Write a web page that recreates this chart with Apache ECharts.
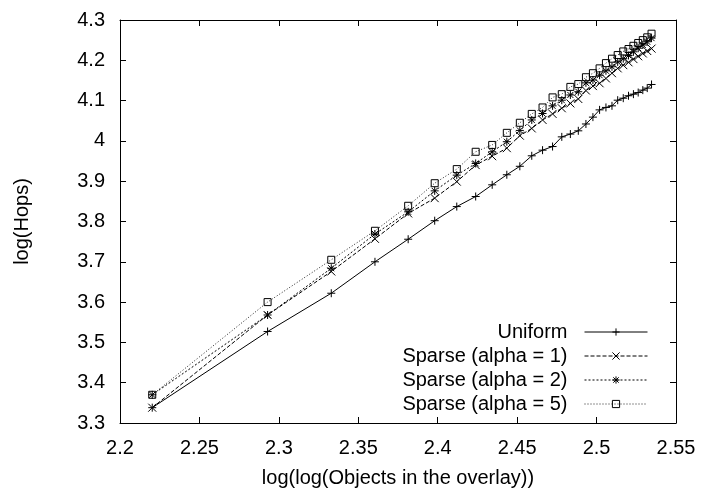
<!DOCTYPE html>
<html>
<head>
<meta charset="utf-8">
<script src="https://cdn.jsdelivr.net/npm/echarts@6/dist/echarts.min.js"></script>
<style>html,body{margin:0;padding:0;background:#fff}#c{width:706px;height:495px}</style>
</head>
<body>
<div id="c"></div>
<script>
var xVals = [2.2203,2.2929,2.3330,2.3605,2.3814,2.3981,2.4120,2.4239,2.4343,2.4435,2.4517,2.4592,2.4660,2.4723,2.4781,2.4835,2.4885,2.4933,2.4977,2.5019,2.5059,2.5097,2.5133,2.5168,2.5201,2.5232,2.5262,2.5291,2.5319,2.5346];
var uniform = [3.338,3.527,3.622,3.700,3.756,3.802,3.837,3.862,3.891,3.916,3.937,3.963,3.977,3.986,4.010,4.017,4.025,4.042,4.059,4.077,4.083,4.087,4.101,4.106,4.112,4.116,4.120,4.126,4.131,4.140];
var alpha1 = [3.338,3.568,3.676,3.757,3.820,3.858,3.899,3.940,3.962,3.982,4.013,4.031,4.052,4.067,4.081,4.093,4.104,4.125,4.136,4.143,4.155,4.168,4.180,4.188,4.195,4.203,4.210,4.217,4.223,4.229];
var alpha2 = [3.370,3.568,3.684,3.769,3.824,3.876,3.915,3.944,3.973,3.998,4.026,4.052,4.068,4.087,4.101,4.114,4.122,4.144,4.151,4.163,4.174,4.184,4.196,4.204,4.212,4.221,4.230,4.238,4.246,4.255];
var alpha5 = [3.370,3.600,3.705,3.777,3.839,3.895,3.930,3.973,3.990,4.020,4.045,4.067,4.083,4.108,4.116,4.134,4.141,4.158,4.168,4.180,4.193,4.204,4.213,4.222,4.228,4.236,4.243,4.250,4.257,4.266];
var seriesNames = ['Uniform','Sparse (alpha = 1)','Sparse (alpha = 2)','Sparse (alpha = 5)'];
var xTitle = 'log(log(Objects in the overlay))';
var yTitle = 'log(Hops)';

var FONT = 'Liberation Sans';
function pairs(ys){ return xVals.map(function(x,i){ return [x, ys[i]]; }); }

var symbols = [
  'path://M0,4H8M4,0V8',
  'path://M0,0L8,8M8,0L0,8',
  'path://M0,4H8M4,0V8M1,1L7,7M7,1L1,7',
  'path://M0,0H8V8H0Z'
];
var dashes = ['solid', [4,2], [2,2], [1,2]];
var sizes = [8, 8, 8, 7];
var datasets = [uniform, alpha1, alpha2, alpha5];

var axisCommon = {
  axisLine: {show: true, lineStyle: {color: '#000', width: 1}},
  axisTick: {show: true, inside: true, length: 6, lineStyle: {color: '#000', width: 1}},
  splitLine: {show: false}
};

var chart = echarts.init(document.getElementById('c'), null, {renderer: 'canvas'});
chart.setOption({
  animation: false,
  backgroundColor: '#fff',
  grid: {left: 120, right: 30, top: 20, bottom: 72, show: false},
  legend: {
    orient: 'vertical',
    align: 'right',
    right: 58,
    top: 322,
    padding: 0,
    itemWidth: 63,
    itemHeight: 9,
    itemGap: 4,
    lineStyle: {width: 1},
    itemStyle: {borderWidth: 1},
    textStyle: {fontFamily: FONT, fontSize: 20, color: '#000', lineHeight: 20, padding: [0, 12, 0, 0]},
    data: seriesNames
  },
  xAxis: [
    Object.assign({type: 'value', position: 'bottom', min: 2.2, max: 2.55, interval: 0.05,
      name: xTitle, nameLocation: 'middle', nameGap: 45,
      nameTextStyle: {fontFamily: FONT, fontSize: 20, color: '#000'},
      axisLabel: {fontFamily: FONT, fontSize: 20, color: '#000', margin: 15}}, axisCommon),
    Object.assign({type: 'value', position: 'top', min: 2.2, max: 2.55, interval: 0.05,
      axisLabel: {show: false}}, axisCommon)
  ],
  yAxis: [
    Object.assign({type: 'value', position: 'left', min: 3.3, max: 4.3, interval: 0.1,
      name: yTitle, nameLocation: 'middle', nameGap: 88, nameRotate: 90,
      nameTextStyle: {fontFamily: FONT, fontSize: 20, color: '#000'},
      axisLabel: {fontFamily: FONT, fontSize: 20, color: '#000', margin: 15}}, axisCommon),
    Object.assign({type: 'value', position: 'right', min: 3.3, max: 4.3, interval: 0.1,
      axisLabel: {show: false}}, axisCommon)
  ],
  series: datasets.map(function(ys, i){
    return {
      name: seriesNames[i],
      type: 'line',
      xAxisIndex: 0,
      yAxisIndex: 0,
      data: pairs(ys),
      symbol: symbols[i],
      symbolSize: sizes[i],
      showAllSymbol: true,
      z: 10 - i,
      lineStyle: {color: i === 3 ? '#222' : '#000', width: 1, type: dashes[i]},
      itemStyle: {color: 'rgba(0,0,0,0)', borderColor: '#000', borderWidth: 1},
      emphasis: {disabled: true}
    };
  })
});
</script>
</body>
</html>
